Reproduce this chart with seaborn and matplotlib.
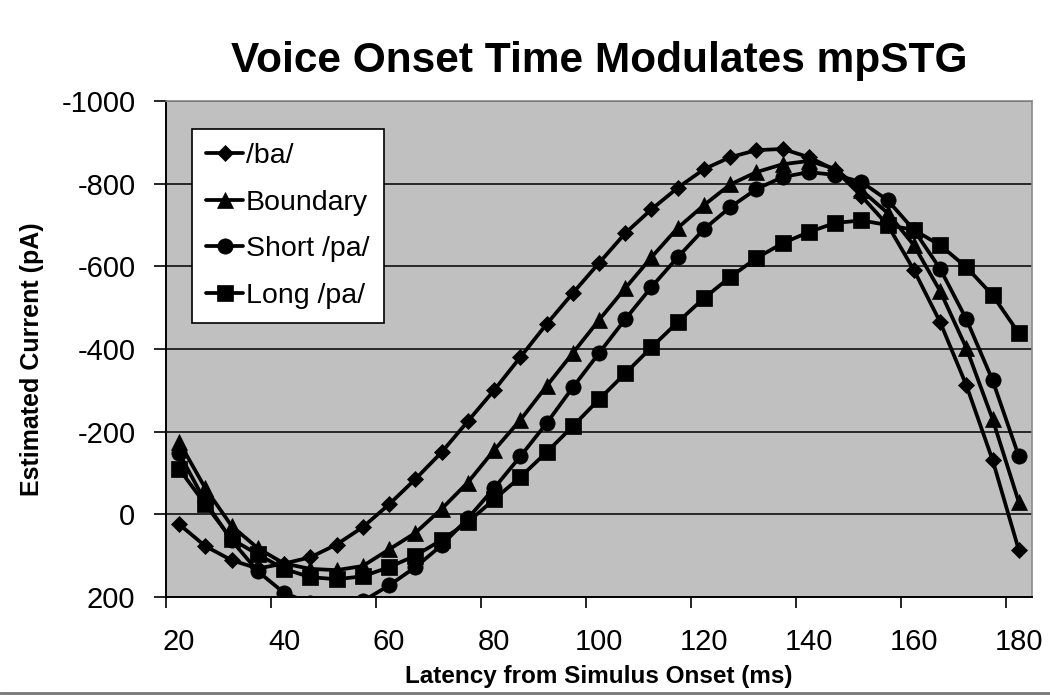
import numpy as np
import pandas as pd
import seaborn as sns
import matplotlib.pyplot as plt
from matplotlib.ticker import FixedLocator
from matplotlib.lines import Line2D

# data (pA, plotted with inverted axis)
latency = [20, 25, 30, 35, 40, 45, 50, 55, 60, 65, 70, 75, 80, 85, 90, 95, 100,
           105, 110, 115, 120, 125, 130, 135, 140, 145, 150, 155, 160, 165, 170, 175, 180]
ba = [24, 77, 111, 131, 119, 104, 73, 31, -24, -85, -150, -225, -300, -380, -460, -535, -608,
      -680, -738, -790, -835, -864, -881, -884, -864, -833, -770, -700, -591, -465, -312, -131, 87]
boundary = [-175, -63, 28, 82, 119, 132, 135, 125, 85, 45, -13, -77, -155, -228, -310, -390, -470,
            -547, -622, -693, -748, -798, -828, -847, -855, -836, -784, -729, -651, -540, -402, -230, -29]
short_pa = [-148, -30, 63, 138, 190, 215, 225, 210, 172, 128, 75, 10, -63, -140, -220, -307, -390,
            -472, -550, -622, -690, -743, -787, -816, -828, -821, -804, -760, -688, -594, -472, -324, -140]
long_pa = [-110, -24, 60, 97, 132, 152, 157, 150, 128, 100, 62, 19, -36, -90, -150, -213, -278,
           -341, -404, -465, -523, -574, -620, -656, -683, -705, -711, -700, -688, -651, -598, -530, -438]

labels = ["/ba/", "Boundary", "Short /pa/", "Long /pa/"]
markers = ["D", "^", "o", "s"]
msizes = [8.5, 11, 11, 11]
x_ticks = [20, 40, 60, 80, 100, 120, 140, 160, 180]
y_ticks = [-1000, -800, -600, -400, -200, 0, 200]

sns.set_style("ticks")
plt.rcParams['font.family'] = ['Liberation Sans', 'DejaVu Sans']
plt.rcParams['axes.unicode_minus'] = False
plt.rcParams['text.color'] = 'black'
plt.rcParams['axes.labelcolor'] = 'black'
plt.rcParams['xtick.color'] = 'black'
plt.rcParams['ytick.color'] = 'black'

fig = plt.figure(figsize=(10.5, 6.98), dpi=100)
ax = fig.add_axes([166/1050, 1 - 597/698, 866/1050, 496/698])
ax.set_facecolor('#c0c0c0')

for name, vals, mk, ms in zip(labels, [ba, boundary, short_pa, long_pa], markers, msizes):
    sns.lineplot(x=latency, y=vals, ax=ax, color='black', marker=mk, markersize=ms,
                 markeredgecolor='black', markeredgewidth=0.5, linewidth=2.7, label=name)

ax.set_xlim(17.5, 182.5)
ax.set_ylim(200, -1000)
ax.set_yticks(y_ticks)
ax.set_yticklabels([str(v) for v in y_ticks])
ax.set_xticks(x_ticks)
ax.xaxis.set_minor_locator(FixedLocator(np.arange(17.5, 183, 20)))
ax.tick_params(axis='x', which='major', length=0, pad=22, labelsize=21, labelcolor='black')
ax.tick_params(axis='x', which='minor', length=8, width=1.2, direction='out', color='black')
ax.tick_params(axis='y', length=9, width=1.2, direction='out', pad=13, labelsize=21,
               color='black', labelcolor='black')

ax.yaxis.grid(True, color='black', linewidth=1.1)
ax.set_axisbelow('line')
for s in ['top', 'right']:
    ax.spines[s].set_color('#8a8a8a')
    ax.spines[s].set_linewidth(1.2)
for s in ['left', 'bottom']:
    ax.spines[s].set_color('black')
    ax.spines[s].set_linewidth(1.4)

ax.set_xlabel("Latency from Simulus Onset (ms)", fontsize=17.5, fontweight='bold', color='black')
ax.set_ylabel("Estimated Current (pA)", fontsize=18, fontweight='bold', color='black')
ax.xaxis.set_label_coords(0.5, -0.138)
ax.yaxis.set_label_coords(-0.141, 0.48)
ax.set_title("Voice Onset Time Modulates mpSTG", fontsize=30.5, fontweight='bold', pad=21,
             color='black')

leg = ax.legend(loc='upper left', bbox_to_anchor=(0.03, 0.9435), fontsize=20.5, frameon=True,
                fancybox=False, framealpha=1, edgecolor='black', handlelength=1.3,
                handletextpad=0.1, labelspacing=0.72, borderpad=0.5, borderaxespad=0)
leg.get_frame().set_linewidth(1.2)
leg.get_frame().set_facecolor('white')
for t in leg.get_texts():
    t.set_color('black')

# thin grey rule at the bottom of the page
fig.add_artist(Line2D([0, 1], [1 - 693/698, 1 - 693/698], transform=fig.transFigure,
                      color='#777777', linewidth=2))

fig.savefig("out.png", dpi=100)
